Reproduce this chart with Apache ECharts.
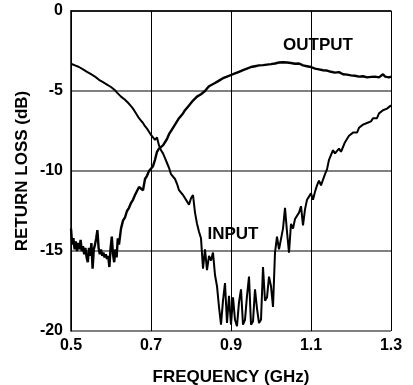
<!DOCTYPE html>
<html>
<head>
<meta charset="utf-8">
<script src="https://cdn.jsdelivr.net/npm/echarts@6/dist/echarts.min.js"></script>
<style>
  html, body { margin: 0; padding: 0; background: #fff; }
  #chart { width: 413px; height: 385px; }
</style>
</head>
<body>
<div id="chart"></div>
<script>
// tick labels
const xTicks = [0.5, 0.7, 0.9, 1.1, 1.3];
const yTicks = [0, -5, -10, -15, -20];

// INPUT return loss
const inputFreq = [
  0.500, 0.505, 0.510, 0.515, 0.520, 0.525, 0.530, 0.535, 0.540, 0.545,
  0.550, 0.555, 0.560, 0.565, 0.570, 0.575, 0.580, 0.585, 0.590, 0.595,
  0.600, 0.605, 0.610, 0.615, 0.620, 0.625, 0.630, 0.635, 0.640, 0.645,
  0.650, 0.655, 0.660, 0.665, 0.670, 0.675, 0.680, 0.685, 0.690, 0.695,
  0.700, 0.705, 0.710, 0.715, 0.720, 0.725, 0.730, 0.735, 0.740, 0.745,
  0.750, 0.755, 0.760, 0.765, 0.770, 0.775, 0.780, 0.785, 0.790, 0.795,
  0.800, 0.805, 0.810, 0.815, 0.820, 0.825, 0.830, 0.835, 0.840, 0.845,
  0.850, 0.855, 0.860, 0.865, 0.870, 0.875, 0.880, 0.885, 0.890, 0.895,
  0.900, 0.905, 0.910, 0.915, 0.920, 0.925, 0.930, 0.935, 0.940, 0.945,
  0.950, 0.955, 0.960, 0.965, 0.970, 0.975, 0.980, 0.985, 0.990, 0.995,
  1.000, 1.005, 1.010, 1.015, 1.020, 1.025, 1.030, 1.035, 1.040, 1.045,
  1.050, 1.055, 1.060, 1.065, 1.070, 1.075, 1.080, 1.085, 1.090, 1.095,
  1.100, 1.105, 1.110, 1.115, 1.120, 1.125, 1.130, 1.135, 1.140, 1.145,
  1.150, 1.155, 1.160, 1.165, 1.170, 1.175, 1.180, 1.185, 1.190, 1.195,
  1.200, 1.205, 1.210, 1.215, 1.220, 1.225, 1.230, 1.235, 1.240, 1.245,
  1.250, 1.255, 1.260, 1.265, 1.270, 1.275, 1.280, 1.285, 1.290, 1.295,
  1.300
];
const inputLoss = [
  -3.3, -3.25, -3.4, -3.45, -3.5, -3.6, -3.65, -3.7, -3.8, -3.85,
  -3.95, -4.05, -4.1, -4.2, -4.3, -4.35, -4.45, -4.5, -4.6, -4.65,
  -4.75, -4.85, -4.95, -5.1, -5.2, -5.35, -5.45, -5.55, -5.65, -5.8,
  -5.95, -6.1, -6.3, -6.5, -6.7, -6.85, -7.0, -7.2, -7.35, -7.55,
  -7.75, -7.9, -8.05, -7.9, -8.4, -8.7, -8.9, -9.2, -9.5, -9.8,
  -10.2, -10.3, -10.5, -10.8, -11.2, -11.1, -11.5, -11.6, -11.9, -12.1,
  -11.7, -11.5, -12.6, -13.3, -13.8, -14.2, -16.1, -14.9, -16.2, -15.3,
  -15.6, -15.1, -16.5, -17.2, -18.5, -19.6, -18.1, -17.0, -19.5, -17.8,
  -19.6, -17.9, -19.3, -19.7, -18.2, -17.4, -19.6, -19.3, -17.8, -16.6,
  -19.6, -19.4, -17.4, -18.6, -19.5, -19.3, -16.0, -18.1, -17.9, -16.6,
  -17.2, -18.5, -15.1, -14.1, -14.9, -15.0, -13.6, -12.3, -13.8, -15.1,
  -13.3, -13.6, -13.0, -12.9, -12.6, -12.2, -13.4, -12.4, -11.8, -11.6,
  -11.4, -11.8, -11.3, -10.9, -10.6, -10.9, -10.8, -10.2, -9.9, -9.3,
  -9.4, -8.7, -8.9, -8.8, -8.6, -8.8, -8.5, -8.2, -8.0, -7.8,
  -7.9, -7.6, -7.5, -7.6, -7.3, -7.4, -7.1, -7.2, -7.0, -6.9,
  -6.9, -6.7, -6.6, -6.7, -6.4, -6.4, -6.2, -6.25, -6.1, -6.0,
  -5.9
];

// OUTPUT return loss
const outputFreq = [
  0.500, 0.503, 0.506, 0.509, 0.512, 0.515, 0.518, 0.521, 0.524, 0.527,
  0.530, 0.533, 0.536, 0.539, 0.542, 0.545, 0.548, 0.551, 0.554, 0.557,
  0.560, 0.563, 0.566, 0.569, 0.572, 0.575, 0.578, 0.581, 0.584, 0.587,
  0.590, 0.593, 0.596, 0.599, 0.602, 0.605, 0.608, 0.611, 0.614, 0.617,
  0.620, 0.625, 0.630, 0.635, 0.640, 0.645, 0.650, 0.655, 0.660, 0.665,
  0.670, 0.675, 0.680, 0.685, 0.690, 0.695, 0.700, 0.705, 0.710, 0.715,
  0.720, 0.725, 0.730, 0.735, 0.740, 0.745, 0.750, 0.755, 0.760, 0.765,
  0.770, 0.775, 0.780, 0.785, 0.790, 0.795, 0.800, 0.805, 0.810, 0.815,
  0.820, 0.825, 0.830, 0.835, 0.840, 0.845, 0.850, 0.860, 0.870, 0.880,
  0.890, 0.900, 0.910, 0.920, 0.930, 0.940, 0.950, 0.960, 0.970, 0.980,
  0.990, 1.000, 1.010, 1.020, 1.030, 1.040, 1.050, 1.060, 1.070, 1.080,
  1.090, 1.100, 1.110, 1.120, 1.130, 1.140, 1.150, 1.160, 1.170, 1.180,
  1.190, 1.200, 1.210, 1.220, 1.230, 1.240, 1.250, 1.260, 1.270, 1.280,
  1.285, 1.290, 1.295, 1.300
];
const outputLoss = [
  -13.6, -14.6, -14.2, -14.9, -14.4, -15.0, -14.5, -14.9, -14.3, -15.0,
  -14.7, -15.2, -14.8, -15.4, -15.7, -14.8, -15.3, -14.5, -16.1, -14.9,
  -14.6, -14.2, -13.7, -14.8, -15.2, -14.9, -15.3, -15.1, -15.4, -15.2,
  -15.5, -15.3, -16.0, -14.8, -14.1, -15.2, -15.7, -14.9, -15.4, -14.2,
  -14.6, -13.6, -13.1, -12.9, -12.5, -12.3, -12.0, -11.8, -11.5, -11.6,
  -11.0, -10.9, -11.2, -10.5, -10.3, -10.0, -9.9, -9.7, -9.3, -8.8,
  -8.6, -8.7, -8.4, -8.5, -8.0, -7.7, -7.8, -7.3, -7.1, -6.9,
  -6.7, -6.6, -6.4, -6.2, -6.1, -5.9, -5.8, -5.6, -5.55, -5.35,
  -5.4, -5.2, -5.1, -5.0, -4.85, -4.7, -4.65, -4.5, -4.35, -4.2,
  -4.1, -4.0, -3.9, -3.8, -3.7, -3.6, -3.5, -3.45, -3.4, -3.38,
  -3.35, -3.32, -3.28, -3.22, -3.2, -3.22, -3.25, -3.3, -3.28, -3.4,
  -3.45, -3.5, -3.6, -3.65, -3.7, -3.72, -3.8, -3.85, -3.82, -3.95,
  -3.98, -4.02, -4.05, -4.1, -4.08, -4.15, -4.12, -4.1, -4.15, -3.95,
  -4.1, -4.05, -4.15, -4.1
];

const FONT = 'Liberation Sans, Arial, sans-serif';

let myChart = echarts.init(document.getElementById('chart'));

function pairs(xs, ys) {
  return xs.map((x, i) => [x, ys[i]]);
}

let option = {
  animation: false,
  backgroundColor: '#fff',
  grid: {
    left: 71, top: 11, width: 320, height: 320,
    containLabel: false,
    outerBoundsMode: 'none'
  },
  xAxis: {
    type: 'value',
    min: xTicks[0],
    max: xTicks[xTicks.length - 1],
    interval: 0.2,
    name: 'FREQUENCY (GHz)',
    nameLocation: 'middle',
    nameGap: 38,
    nameMoveOverlap: false,
    nameTextStyle: { fontFamily: FONT, fontWeight: 'bold', fontSize: 17, color: '#000' },
    axisLine: { lineStyle: { color: '#000', width: 1.5 } },
    axisTick: { show: false },
    axisLabel: {
      margin: 7,
      fontFamily: FONT, fontWeight: 'bold', fontSize: 16, color: '#000',
      formatter: v => v.toFixed(1)
    },
    splitLine: { show: true, lineStyle: { color: '#000', width: 1 } }
  },
  yAxis: {
    type: 'value',
    min: yTicks[yTicks.length - 1],
    max: yTicks[0],
    interval: 5,
    name: 'RETURN LOSS (dB)',
    nameLocation: 'middle',
    nameGap: 40,
    nameMoveOverlap: false,
    nameTextStyle: { fontFamily: FONT, fontWeight: 'bold', fontSize: 17, color: '#000' },
    axisLine: { show: true, lineStyle: { color: '#000', width: 1.5 } },
    axisTick: { show: false },
    axisLabel: {
      margin: 8,
      fontFamily: FONT, fontWeight: 'bold', fontSize: 16, color: '#000'
    },
    splitLine: { show: true, lineStyle: { color: '#808080', width: 2 } }
  },
  series: [
    {
      name: 'INPUT',
      type: 'line',
      data: pairs(inputFreq, inputLoss),
      symbol: 'none',
      lineStyle: { color: '#000', width: 2 },
      z: 5,
      markPoint: {
        symbol: 'circle',
        symbolSize: 0,
        label: {
          show: true, position: 'inside', formatter: 'INPUT',
          fontFamily: FONT, fontWeight: 'bold', fontSize: 17, color: '#000'
        },
        data: [{ coord: [0.905, -13.97] }]
      }
    },
    {
      name: 'OUTPUT',
      type: 'line',
      data: pairs(outputFreq, outputLoss),
      symbol: 'none',
      lineStyle: { color: '#000', width: 2.4 },
      z: 5,
      markPoint: {
        symbol: 'circle',
        symbolSize: 0,
        label: {
          show: true, position: 'inside', formatter: 'OUTPUT',
          fontFamily: FONT, fontWeight: 'bold', fontSize: 17, color: '#000'
        },
        data: [{ coord: [1.1175, -2.125] }]
      }
    }
  ]
};

myChart.setOption(option);
</script>
</body>
</html>
